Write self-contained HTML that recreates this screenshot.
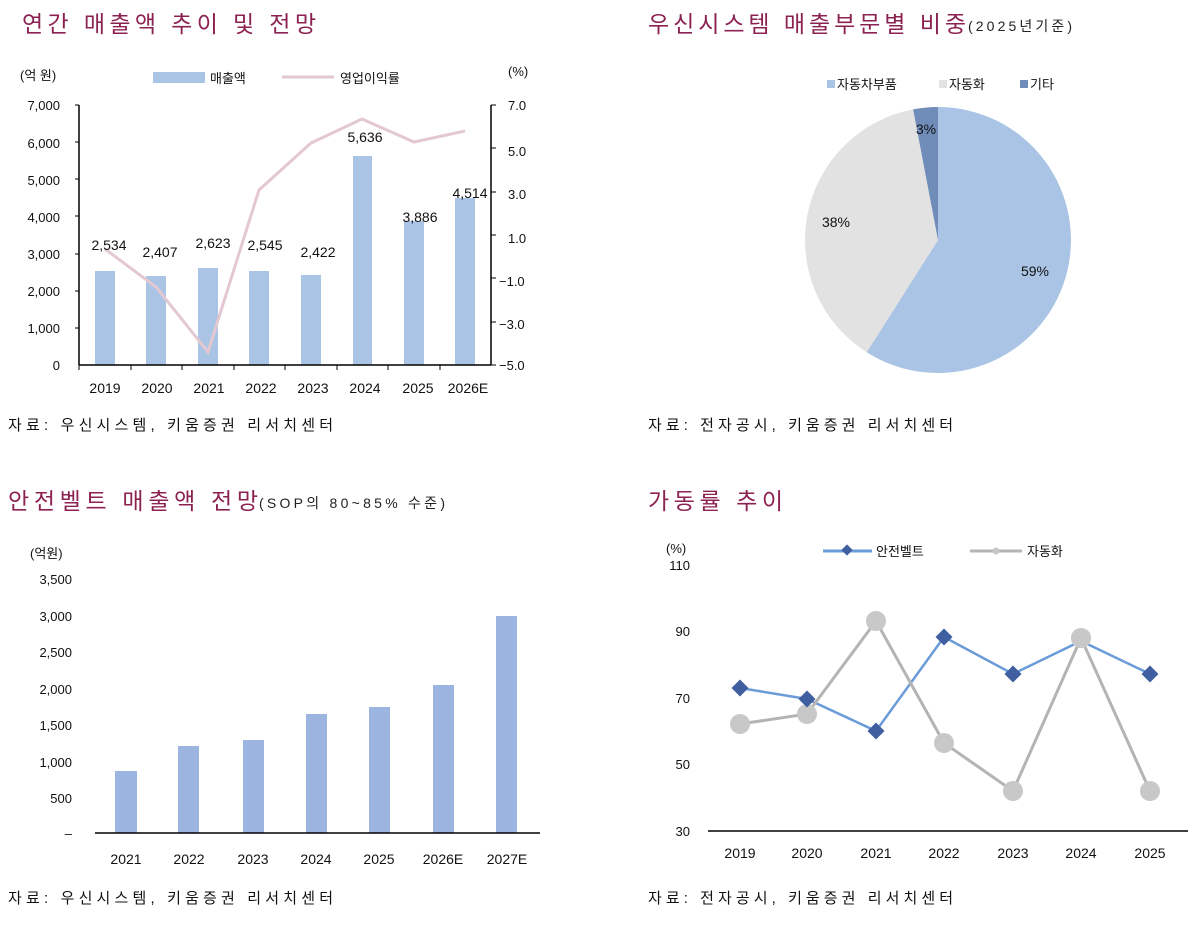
<!DOCTYPE html>
<html><head><meta charset="utf-8"><style>
html,body{margin:0;padding:0;background:#fff;}
svg text{font-family:"Liberation Sans","Noto Sans CJK KR",sans-serif;}
</style></head><body>
<svg width="1200" height="920" viewBox="0 0 1200 920" xmlns="http://www.w3.org/2000/svg">
<rect width="1200" height="920" fill="#fff"/>
<!-- Titles -->
<g font-size="23" fill="#8b2252">
<text x="22" y="32" textLength="294" lengthAdjust="spacing">연간 매출액 추이 및 전망</text>
<text x="648" y="32" textLength="318" lengthAdjust="spacing">우신시스템 매출부문별 비중</text>
<text x="8" y="509" textLength="250" lengthAdjust="spacing">안전벨트 매출액 전망</text>
<text x="648" y="509" textLength="135" lengthAdjust="spacing">가동률 추이</text>
</g>
<text x="968" y="31" font-size="14" fill="#222" textLength="104" lengthAdjust="spacing">(2025년기준)</text>
<text x="259" y="508" font-size="14" fill="#222" textLength="186" lengthAdjust="spacing">(SOP의 80~85% 수준)</text>
<!-- Sources -->
<g font-size="15" fill="#111">
<text x="8" y="430" textLength="325" lengthAdjust="spacing">자료: 우신시스템, 키움증권 리서치센터</text>
<text x="648" y="430" textLength="305" lengthAdjust="spacing">자료: 전자공시, 키움증권 리서치센터</text>
<text x="8" y="903" textLength="325" lengthAdjust="spacing">자료: 우신시스템, 키움증권 리서치센터</text>
<text x="648" y="903" textLength="305" lengthAdjust="spacing">자료: 전자공시, 키움증권 리서치센터</text>
</g>

<!-- Chart 1 -->
<g font-size="13" fill="#111">
<text x="20" y="80">(억 원)</text>
<text x="508" y="76">(%)</text>
<rect x="153" y="72" width="52" height="11" fill="#a9c4e4"/>
<text x="210" y="83">매출액</text>
<line x1="282" y1="77" x2="334" y2="77" stroke="#e3c8d2" stroke-width="3"/>
<text x="340" y="83">영업이익률</text>
<g text-anchor="end">
<text x="60" y="110">7,000</text><text x="60" y="148">6,000</text><text x="60" y="185">5,000</text><text x="60" y="222">4,000</text><text x="60" y="259">3,000</text><text x="60" y="296">2,000</text><text x="60" y="333">1,000</text><text x="60" y="370">0</text>
</g>
<g text-anchor="start">
<text x="508" y="110">7.0</text><text x="508" y="156">5.0</text><text x="508" y="199">3.0</text><text x="508" y="243">1.0</text><text x="499" y="286">−1.0</text><text x="499" y="329">−3.0</text><text x="499" y="370">−5.0</text>
</g>
</g>
<g fill="#a9c4e4">
<rect x="95" y="271" width="20" height="94"/>
<rect x="146" y="276" width="20" height="89"/>
<rect x="198" y="268" width="20" height="97"/>
<rect x="249" y="271" width="20" height="94"/>
<rect x="301" y="275" width="20" height="90"/>
<rect x="353" y="156" width="19" height="209"/>
<rect x="404" y="221" width="20" height="144"/>
<rect x="455" y="198" width="20" height="167"/>
</g>
<polyline points="105,249 156,287 208,352 259,190 311,143 362,119 414,142 465,131" fill="none" stroke="#e3c8d2" stroke-width="3"/>
<g stroke="#000" stroke-width="1.5">
<line x1="79" y1="105" x2="79" y2="365"/>
<line x1="79" y1="365" x2="491" y2="365"/>
<line x1="491" y1="105" x2="491" y2="365"/>
</g>
<g stroke="#000" stroke-width="1">
<line x1="75" y1="105" x2="79" y2="105"/><line x1="75" y1="142" x2="79" y2="142"/><line x1="75" y1="179" x2="79" y2="179"/><line x1="75" y1="216" x2="79" y2="216"/><line x1="75" y1="254" x2="79" y2="254"/><line x1="75" y1="291" x2="79" y2="291"/><line x1="75" y1="328" x2="79" y2="328"/>
<line x1="491" y1="105" x2="496" y2="105"/><line x1="491" y1="148" x2="496" y2="148"/><line x1="491" y1="192" x2="496" y2="192"/><line x1="491" y1="235" x2="496" y2="235"/><line x1="491" y1="278" x2="496" y2="278"/><line x1="491" y1="322" x2="496" y2="322"/><line x1="491" y1="365" x2="496" y2="365"/>
<line x1="79" y1="365" x2="79" y2="370"/><line x1="131" y1="365" x2="131" y2="370"/><line x1="182" y1="365" x2="182" y2="370"/><line x1="234" y1="365" x2="234" y2="370"/><line x1="285" y1="365" x2="285" y2="370"/><line x1="337" y1="365" x2="337" y2="370"/><line x1="388" y1="365" x2="388" y2="370"/><line x1="440" y1="365" x2="440" y2="370"/>
</g>
<g font-size="14" fill="#111" text-anchor="middle">
<text x="109" y="250">2,534</text><text x="160" y="257">2,407</text><text x="213" y="248">2,623</text><text x="265" y="250">2,545</text><text x="318" y="257">2,422</text><text x="365" y="142">5,636</text><text x="420" y="222">3,886</text><text x="470" y="198">4,514</text>
</g>
<g font-size="14" fill="#111" text-anchor="middle">
<text x="105" y="393">2019</text><text x="157" y="393">2020</text><text x="209" y="393">2021</text><text x="261" y="393">2022</text><text x="313" y="393">2023</text><text x="365" y="393">2024</text><text x="418" y="393">2025</text><text x="468" y="393">2026E</text>
</g>

<!-- Chart 2 pie -->
<rect x="827" y="80" width="8" height="8" fill="#a9c4e4"/>
<text x="837" y="89" font-size="13" fill="#111">자동차부품</text>
<rect x="939" y="80" width="8" height="8" fill="#e2e2e2"/>
<text x="949" y="89" font-size="13" fill="#111">자동화</text>
<rect x="1020" y="80" width="8" height="8" fill="#6f8db8"/>
<text x="1030" y="89" font-size="13" fill="#111">기타</text>
<path d="M938,240 L938,107 A133,133 0 1,1 866.7,352.3 Z" fill="#a9c4e4"/>
<path d="M938,240 L866.7,352.3 A133,133 0 0,1 913.1,109.4 Z" fill="#e2e2e2"/>
<path d="M938,240 L913.1,109.4 A133,133 0 0,1 938,107 Z" fill="#6f8db8"/>
<g font-size="14" fill="#111" text-anchor="middle">
<text x="1035" y="276">59%</text><text x="836" y="227">38%</text><text x="926" y="134">3%</text>
</g>

<!-- Chart 3 -->
<g font-size="13" fill="#111">
<text x="30" y="558">(억원)</text>
<g text-anchor="end">
<text x="72" y="584">3,500</text><text x="72" y="621">3,000</text><text x="72" y="657">2,500</text><text x="72" y="694">2,000</text><text x="72" y="730">1,500</text><text x="72" y="767">1,000</text><text x="72" y="803">500</text><text x="72" y="838">–</text>
</g>
</g>
<g fill="#9bb4e0">
<rect x="115" y="771" width="22" height="62"/>
<rect x="178" y="746" width="21" height="87"/>
<rect x="243" y="740" width="21" height="93"/>
<rect x="306" y="714" width="21" height="119"/>
<rect x="369" y="707" width="21" height="126"/>
<rect x="433" y="685" width="21" height="148"/>
<rect x="496" y="616" width="21" height="217"/>
</g>
<line x1="95" y1="833" x2="540" y2="833" stroke="#000" stroke-width="1.5"/>
<g font-size="14" fill="#111" text-anchor="middle">
<text x="126" y="864">2021</text><text x="189" y="864">2022</text><text x="253" y="864">2023</text><text x="316" y="864">2024</text><text x="379" y="864">2025</text><text x="443" y="864">2026E</text><text x="507" y="864">2027E</text>
</g>

<!-- Chart 4 -->
<g font-size="13" fill="#111">
<text x="666" y="553">(%)</text>
<g text-anchor="end">
<text x="690" y="570">110</text><text x="690" y="636">90</text><text x="690" y="703">70</text><text x="690" y="769">50</text><text x="690" y="836">30</text>
</g>
<line x1="823" y1="551" x2="872" y2="551" stroke="#6b9bd8" stroke-width="3"/>
<rect x="843" y="546" width="8" height="8" fill="#3f5fa0" transform="rotate(45 847 550)"/>
<text x="876" y="556">안전벨트</text>
<line x1="970" y1="551" x2="1022" y2="551" stroke="#b4b4b4" stroke-width="3"/>
<circle cx="996" cy="551" r="3.5" fill="#c8c8c8"/>
<text x="1027" y="556">자동화</text>
</g>
<line x1="708" y1="831" x2="1188" y2="831" stroke="#000" stroke-width="1.5"/>
<polyline points="740,688 807,699 876,731 944,637 1013,674 1081,641 1150,674" fill="none" stroke="#6b9bd8" stroke-width="2.5"/>
<polyline points="740,724 807,714 876,621 944,743 1013,791 1081,638 1150,791" fill="none" stroke="#b4b4b4" stroke-width="3"/>
<g fill="#c8c8c8">
<circle cx="740" cy="724" r="10"/><circle cx="807" cy="714" r="10"/><circle cx="876" cy="621" r="10"/><circle cx="944" cy="743" r="10"/><circle cx="1013" cy="791" r="10"/><circle cx="1081" cy="638" r="10"/><circle cx="1150" cy="791" r="10"/>
</g>
<g fill="#3f5fa0">
<rect x="734" y="682" width="12" height="12" transform="rotate(45 740 688)"/>
<rect x="801" y="693" width="12" height="12" transform="rotate(45 807 699)"/>
<rect x="870" y="725" width="12" height="12" transform="rotate(45 876 731)"/>
<rect x="938" y="631" width="12" height="12" transform="rotate(45 944 637)"/>
<rect x="1007" y="668" width="12" height="12" transform="rotate(45 1013 674)"/>
<rect x="1144" y="668" width="12" height="12" transform="rotate(45 1150 674)"/>
</g>
<circle cx="1081" cy="638" r="10" fill="#c8c8c8"/>
<g font-size="14" fill="#111" text-anchor="middle">
<text x="740" y="858">2019</text><text x="807" y="858">2020</text><text x="876" y="858">2021</text><text x="944" y="858">2022</text><text x="1013" y="858">2023</text><text x="1081" y="858">2024</text><text x="1150" y="858">2025</text>
</g>
</svg>
</body></html>
